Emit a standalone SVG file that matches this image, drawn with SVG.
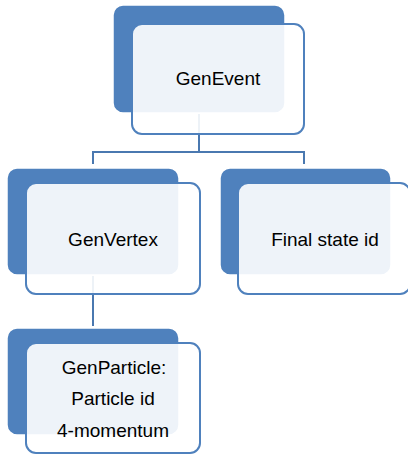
<svg xmlns="http://www.w3.org/2000/svg" width="408" height="455" viewBox="0 0 408 455">
  <style>
    .back { fill: #4f81bd; stroke: #ffffff; stroke-width: 1.5; }
    .front { fill: #ffffff; fill-opacity: 0.9; stroke: #4f81bd; stroke-width: 2; }
    .edge { fill: none; stroke: #4a78b0; stroke-width: 2; }
    .label { font-family: "Liberation Sans", Arial, sans-serif; font-size: 19px; fill: #000000; text-anchor: middle; }
  </style>
  <rect width="408" height="455" fill="#ffffff"/>

  <!-- tree connectors -->
  <g id="connectors">
    <path class="edge" d="M199 114 V152 M93 164 V152 H304 V164"/>
    <path class="edge" d="M93 276 V326"/>
  </g>

  <g id="genevent">
    <rect class="back" x="113" y="5" width="172" height="108" rx="10"/>
    <rect class="front" x="132" y="24" width="172" height="110" rx="10"/>
    <text class="label" x="218" y="85">GenEvent</text>
  </g>

  <g id="genvertex">
    <rect class="back" x="7" y="168" width="172" height="107" rx="10"/>
    <rect class="front" x="26" y="183" width="174" height="111" rx="10"/>
    <text class="label" x="113" y="246">GenVertex</text>
  </g>

  <g id="finalstate">
    <rect class="back" x="220" y="168" width="171" height="107" rx="10"/>
    <rect class="front" x="238" y="183" width="172" height="111" rx="10"/>
    <text class="label" x="325" y="246">Final state id</text>
  </g>

  <g id="genparticle">
    <rect class="back" x="7" y="328" width="172" height="107" rx="10"/>
    <rect class="front" x="26" y="343" width="174" height="110" rx="10"/>
    <text class="label" x="114" y="374">GenParticle:</text>
    <text class="label" x="113" y="405">Particle id</text>
    <text class="label" x="113" y="437">4-momentum</text>
  </g>
</svg>
